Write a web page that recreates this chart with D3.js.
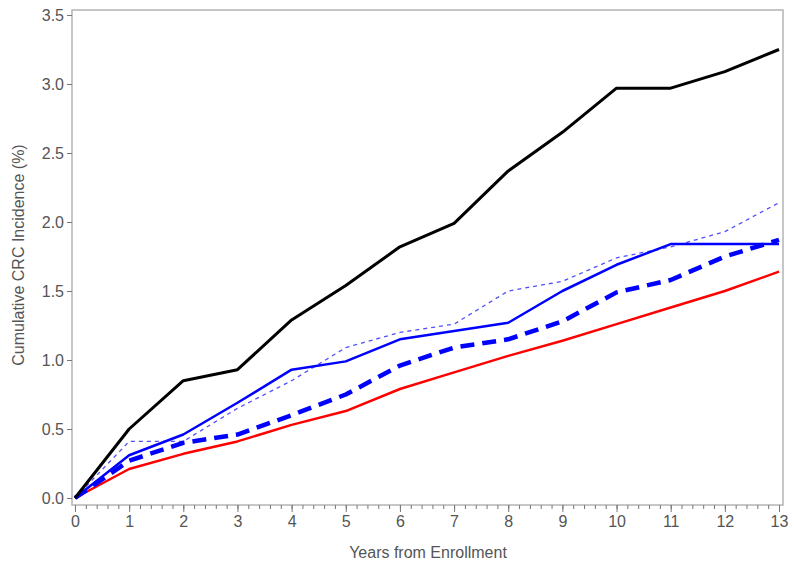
<!DOCTYPE html>
<html>
<head>
<meta charset="utf-8">
<script src="https://cdn.jsdelivr.net/npm/d3@7"></script>
<style>
  body { margin: 0; background: #fff; }
  text { font-family: "Liberation Sans", Arial, sans-serif; fill: #555; }
</style>
</head>
<body>
<div class="chart"></div>
<script>
const w = 795;
const h = 567;

const years = [0, 1, 2, 3, 4, 5, 6, 7, 8, 9, 10, 11, 12, 13];
const blackSolid = [0, 0.50, 0.85, 0.93, 1.29, 1.54, 1.82, 1.99, 2.37, 2.65, 2.97, 2.97, 3.09, 3.25];
const blueSolid = [0, 0.31, 0.46, 0.69, 0.93, 0.99, 1.15, 1.21, 1.27, 1.50, 1.69, 1.84, 1.84, 1.84];
const blueDotted = [0, 0.41, 0.41, 0.65, 0.85, 1.09, 1.20, 1.26, 1.50, 1.57, 1.74, 1.82, 1.93, 2.14];
const blueDashed = [0, 0.27, 0.40, 0.46, 0.60, 0.75, 0.96, 1.09, 1.15, 1.28, 1.49, 1.58, 1.75, 1.87];
const redSolid = [0, 0.21, 0.32, 0.41, 0.53, 0.63, 0.79, 0.91, 1.03, 1.14, 1.26, 1.38, 1.50, 1.64];
const yTicks = [0, 0.5, 1.0, 1.5, 2.0, 2.5, 3.0, 3.5];

const frame = {left: 72, right: 783, top: 10, bottom: 505};

const x = d3.scaleLinear().domain([0, 13]).range([75, 779]);
const y = d3.scaleLinear().domain([0, 3.5]).range([498, 15]);

const svg = d3.select(".chart")
  .append("svg")
  .attr("width", w)
  .attr("height", h);

// frame
svg.append("rect")
  .attr("x", frame.left)
  .attr("y", frame.top)
  .attr("width", frame.right - frame.left)
  .attr("height", frame.bottom - frame.top)
  .attr("fill", "none")
  .attr("stroke", "#b4b4b4")
  .attr("stroke-width", 1.5);

// y axis
const yAxis = svg.append("g")
  .attr("transform", `translate(${frame.left},0)`)
  .call(d3.axisLeft(y).tickValues(yTicks).tickFormat(d3.format(".1f")).tickSize(5).tickPadding(3));
yAxis.select(".domain").remove();
yAxis.selectAll("line").attr("stroke", "#777");
yAxis.selectAll("text").attr("font-size", 16).attr("fill", "#555");

// x axis minor ticks
const xMinor = svg.append("g")
  .attr("transform", `translate(0,${frame.bottom})`)
  .call(d3.axisBottom(x).ticks(65).tickFormat("").tickSize(4));
xMinor.select(".domain").remove();
xMinor.selectAll("line").attr("stroke", "#777");

// x axis major
const xAxis = svg.append("g")
  .attr("transform", `translate(0,${frame.bottom})`)
  .call(d3.axisBottom(x).tickValues(years).tickSize(7).tickPadding(4));
xAxis.select(".domain").remove();
xAxis.selectAll("line").attr("stroke", "#777");
xAxis.selectAll("text").attr("font-size", 16).attr("fill", "#555");

// axis titles
svg.append("text")
  .attr("x", 428)
  .attr("y", 558)
  .attr("text-anchor", "middle")
  .attr("font-size", 16)
  .text("Years from Enrollment");

svg.append("text")
  .attr("transform", "translate(24,255) rotate(-90)")
  .attr("text-anchor", "middle")
  .attr("font-size", 16)
  .text("Cumulative CRC Incidence (%)");

// lines
const line = d3.line()
  .x((d, i) => x(years[i]))
  .y(d => y(d));

const series = [
  {values: redSolid, color: "#ff0000", width: 2.5, dash: null},
  {values: blueDotted, color: "#5050ff", width: 1.3, dash: "4,4"},
  {values: blueDashed, color: "#0000ff", width: 4.5, dash: "14,8"},
  {values: blueSolid, color: "#0000ff", width: 2.5, dash: null},
  {values: blackSolid, color: "#000000", width: 3, dash: null}
];

svg.append("g")
  .selectAll("path")
  .data(series)
  .enter().append("path")
  .attr("d", d => line(d.values))
  .attr("fill", "none")
  .attr("stroke", d => d.color)
  .attr("stroke-width", d => d.width)
  .attr("stroke-dasharray", d => d.dash)
  .attr("stroke-linejoin", "round");
</script>
</body>
</html>
